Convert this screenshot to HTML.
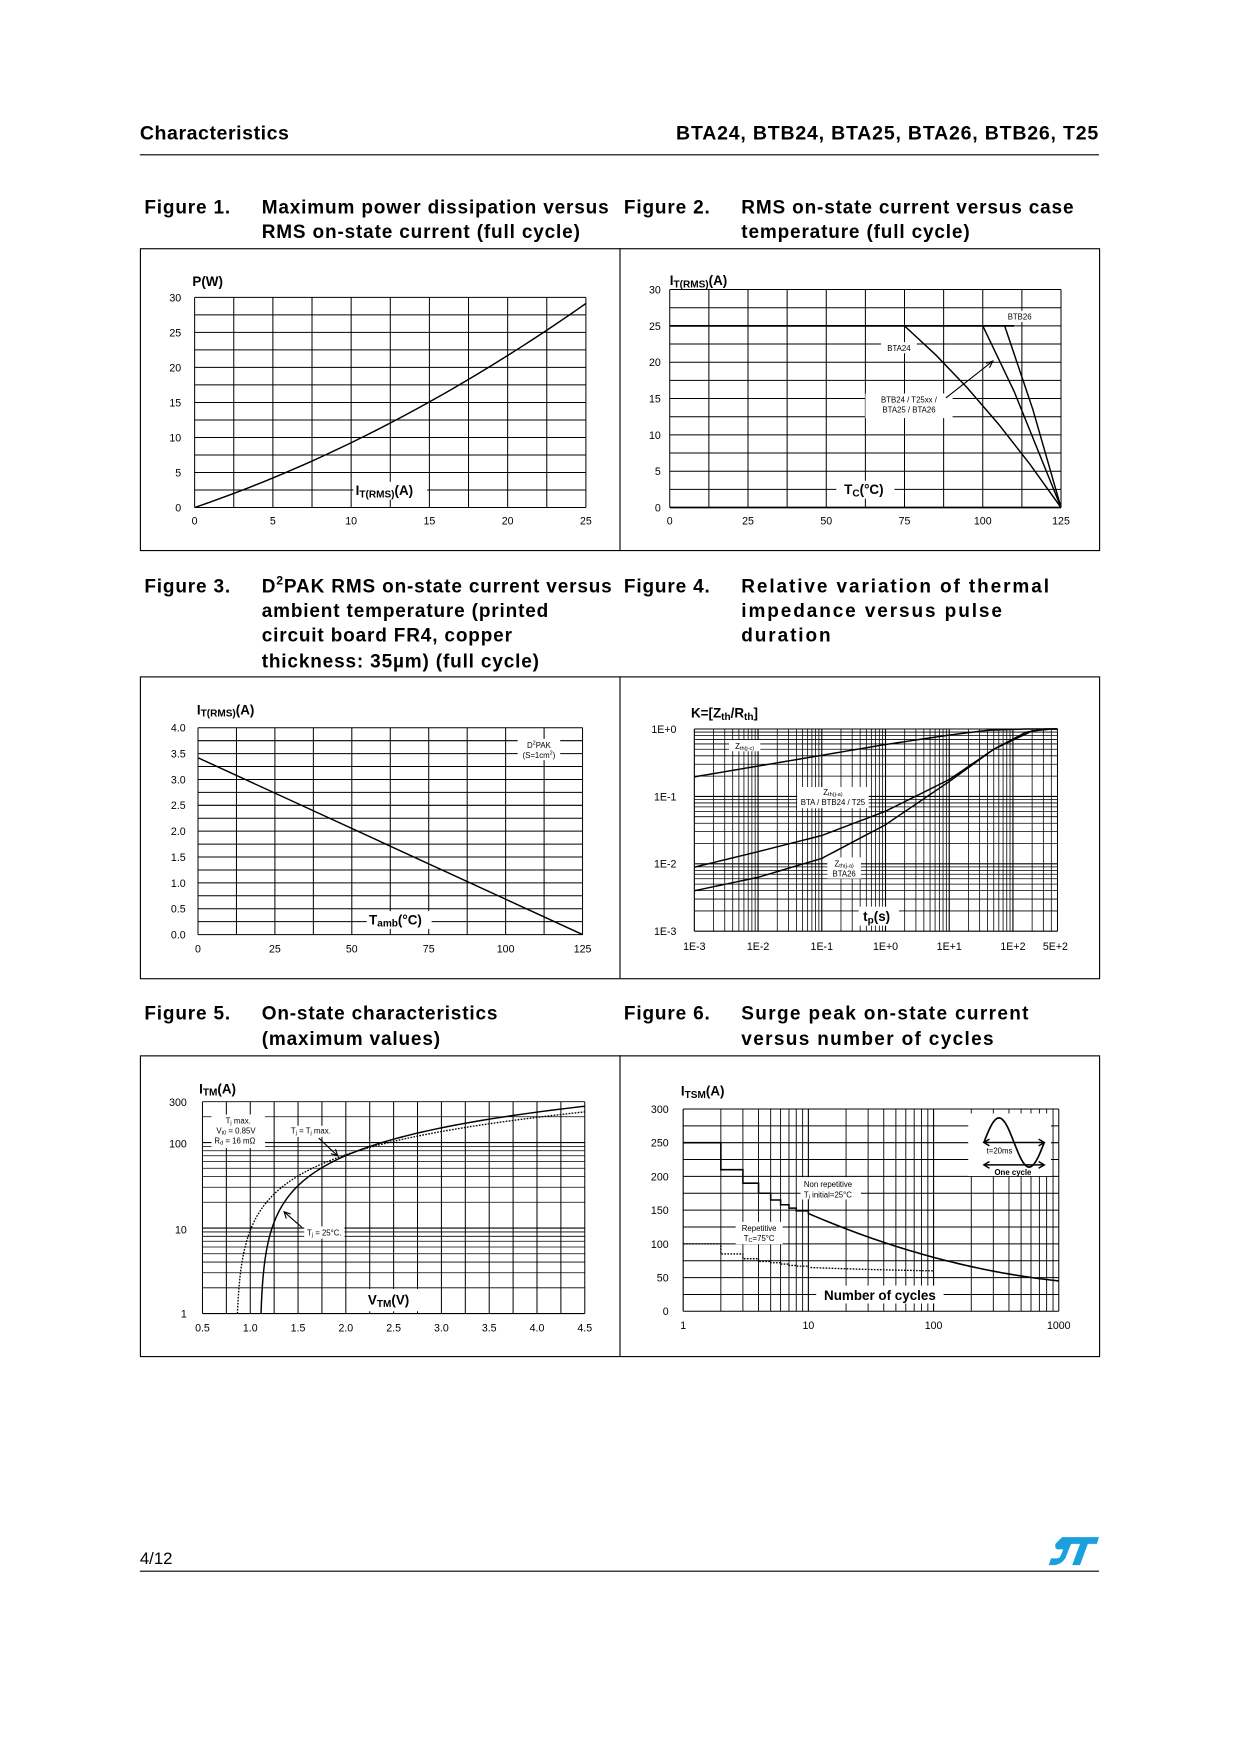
<!DOCTYPE html>
<html><head><meta charset="utf-8"><style>
html,body{margin:0;padding:0;background:#fff}
svg{display:block}
text{font-family:"Liberation Sans",Arial,sans-serif;fill:#000}
.t{font-size:17px;font-weight:bold;letter-spacing:0.75px}
.ax{font-size:9.5px}
.sm{font-size:7px}
.lb{font-size:12px;font-weight:bold}
</style></head><body>
<svg id="s" width="1240" height="1754" viewBox="0 0 1109 1569" xmlns="http://www.w3.org/2000/svg">
<rect width="1109" height="1569" fill="#fff"/>
<g id="grid" stroke="#000" stroke-width="0.9" fill="none"></g>
<g id="curves" stroke="#000" stroke-width="1.3" fill="none"></g>
<g id="labels">
<text x="125" y="125" class="t" style="font-size:17.5px;letter-spacing:0.5px">Characteristics</text>
<text x="983" y="125" class="t" text-anchor="end" style="font-size:17.5px;letter-spacing:0.7px">BTA24, BTB24, BTA25, BTA26, BTB26, T25</text>
<line x1="125" y1="138.5" x2="983" y2="138.5" stroke="#000" stroke-width="1"/>

<text x="129" y="191" class="t">Figure 1.</text>
<text x="234" y="191" class="t">Maximum power dissipation versus</text>
<text x="234" y="213" class="t">RMS on-state current (full cycle)</text>
<text x="558" y="191" class="t">Figure 2.</text>
<text x="663" y="191" class="t">RMS on-state current versus case</text>
<text x="663" y="213" class="t">temperature (full cycle)</text>

<text x="129" y="530" class="t">Figure 3.</text>
<text x="234" y="530" class="t">D<tspan dy="-7" font-size="11">2</tspan><tspan dy="7">PAK RMS on-state current versus</tspan></text>
<text x="234" y="552" class="t">ambient temperature (printed</text>
<text x="234" y="574" class="t">circuit board FR4, copper</text>
<text x="234" y="597" class="t">thickness: 35µm) (full cycle)</text>
<text x="558" y="530" class="t">Figure 4.</text>
<text x="663" y="530" class="t" style="letter-spacing:1.7px">Relative variation of thermal</text>
<text x="663" y="552" class="t" style="letter-spacing:1.7px">impedance versus pulse</text>
<text x="663" y="574" class="t" style="letter-spacing:1.7px">duration</text>

<text x="129" y="912" class="t">Figure 5.</text>
<text x="234" y="912" class="t">On-state characteristics</text>
<text x="234" y="935" class="t">(maximum values)</text>
<text x="558" y="912" class="t">Figure 6.</text>
<text x="663" y="912" class="t" style="letter-spacing:1.2px">Surge peak on-state current</text>
<text x="663" y="935" class="t" style="letter-spacing:1.2px">versus number of cycles</text>

<g fill="none" stroke="#000" stroke-width="1">
<rect x="125.5" y="222.5" width="858" height="270"/>
<line x1="554.5" y1="222" x2="554.5" y2="492"/>
<rect x="125.5" y="605.5" width="858" height="270"/>
<line x1="554.5" y1="605" x2="554.5" y2="875"/>
<rect x="125.5" y="944.5" width="858" height="269"/>
<line x1="554.5" y1="944" x2="554.5" y2="1213"/>
</g>

<text x="125" y="1399" style="font-size:15px">4/12</text>
<line x1="125" y1="1405.5" x2="983" y2="1405.5" stroke="#000" stroke-width="1"/>
<g transform="translate(940,1375)"><path d="M10 0 H43 L41 6 H33 L26 25 H19 L26 6 H18 L14 16 Q12 23 4 25 H-2 L0 19 H5 Q8 19 9 16 L11 11 H7 Q3 11 4 6 Z" fill="#1aa0dc"/></g>
</g>
<g id="txt"></g>
</svg>
<script>
const NS="http://www.w3.org/2000/svg";
const G=document.getElementById('grid'),C=document.getElementById('curves'),T=document.getElementById('txt');
function L(g,x1,y1,x2,y2,a){const e=document.createElementNS(NS,'line');e.setAttribute('x1',x1);e.setAttribute('y1',y1);e.setAttribute('x2',x2);e.setAttribute('y2',y2);e.setAttribute('stroke','#000');if(a)for(const k in a)e.setAttribute(k,a[k]);g.appendChild(e);}
function P(pts,a,g){const e=document.createElementNS(NS,'polyline');e.setAttribute('points',pts.map(p=>p[0].toFixed(2)+','+p[1].toFixed(2)).join(' '));e.setAttribute('fill','none');e.setAttribute('stroke','#000');e.setAttribute('stroke-width','1.3');if(a)for(const k in a)e.setAttribute(k,a[k]);(g||C).appendChild(e);}
function Tx(x,y,s,cls,anchor){const e=document.createElementNS(NS,'text');e.setAttribute('x',x);e.setAttribute('y',y);e.setAttribute('class',cls||'ax');if(anchor)e.setAttribute('text-anchor',anchor);e.innerHTML=s;T.appendChild(e);return e;}
function W(x,y,w,h){const e=document.createElementNS(NS,'rect');e.setAttribute('x',x);e.setAttribute('y',y);e.setAttribute('width',w);e.setAttribute('height',h);e.setAttribute('fill','#fff');T.appendChild(e);}

// Plot 1
{const x0=174,x1=524,y0=266,y1=454;
for(let i=0;i<=10;i++){const x=x0+i*(x1-x0)/10;L(G,x,y0,x,y1);}
for(let i=0;i<=12;i++){const y=y1-i*(y1-y0)/12;L(G,x0,y,x1,y);}
const pts=[];for(let I=0;I<=25;I+=0.5){const p=0.765*I+0.016*I*I;pts.push([x0+I/25*350,y1-p/30*188]);}P(pts);
[0,5,10,15,20,25,30].forEach((v,i)=>Tx(162,y1-v/30*188+3.5,v,'ax','end'));
[0,5,10,15,20,25].forEach(v=>Tx(x0+v/25*350,469,v,'ax','middle'));
Tx(172,256,'P(W)','lb');
W(316,431,66,16);Tx(318,443,'I<tspan font-size="9" dy="2">T(RMS)</tspan><tspan dy="-2">(A)</tspan>','lb');
}
// Plot 2
{const x0=599,x1=949,y0=259,y1=454;
const px=t=>x0+t/125*350,py=v=>y1-v/30*195;
for(let i=0;i<=10;i++){L(G,px(i*12.5),y0,px(i*12.5),y1);}
for(let i=0;i<=12;i++){L(G,x0,py(i*2.5),x1,py(i*2.5));}
L(C,x0,py(25),px(110),py(25),{'stroke-width':1.6});L(C,x0,py(0),x1,py(0),{'stroke-width':1.6});
P([[px(75),py(25)],[px(85),py(21)],[px(95),py(16.5)],[px(105),py(11.5)],[px(115),py(6)],[px(125),py(0)]]);
P([[px(100),py(25)],[px(110),py(16)],[px(125),py(0)]]);
P([[px(107),py(25)],[px(116),py(13.5)],[px(125),py(0)]]);
[0,5,10,15,20,25,30].forEach(v=>Tx(591,py(v)+3.5,v,'ax','end'));
[0,25,50,75,100,125].forEach(v=>Tx(px(v),469,v,'ax','middle'));
Tx(599,255,'I<tspan font-size="9" dy="2">T(RMS)</tspan><tspan dy="-2">(A)</tspan>','lb');
W(896,278,33,10);Tx(912,286,'BTB26','sm','middle');
W(788,306,32,10);Tx(804,314,'BTA24','sm','middle');
W(774,352,78,22);Tx(813,360,'BTB24 / T25xx /','sm','middle');Tx(813,369,'BTA25 / BTA26','sm','middle');
L(T,846,356,888,323,{'stroke-width':1});
P([[882,325],[888,323],[885,329]],{'stroke-width':1},T);
W(748,430,52,16);Tx(755,442,'T<tspan font-size="9" dy="2">C</tspan><tspan dy="-2">(°C)</tspan>','lb');
}
// Plot 3
{const x0=177,x1=521,y0=651,y1=836;
const px=t=>x0+t/125*344,py=v=>y1-v/4*185;
for(let i=0;i<=10;i++)L(G,px(i*12.5),y0,px(i*12.5),y1);
for(let i=0;i<=16;i++)L(G,x0,py(i*0.25),x1,py(i*0.25));
P([[px(0),py(3.42)],[px(125),py(0)]]);
[0,0.5,1,1.5,2,2.5,3,3.5,4].forEach(v=>Tx(166,py(v)+3.5,v.toFixed(1),'ax','end'));
[0,25,50,75,100,125].forEach(v=>Tx(px(v),852,v,'ax','middle'));
Tx(176,639,'I<tspan font-size="9" dy="2">T(RMS)</tspan><tspan dy="-2">(A)</tspan>','lb');
W(463,661,38,19);Tx(482,669,'D<tspan font-size="5" dy="-3">2</tspan><tspan dy="3">PAK</tspan>','sm','middle');Tx(482,678,'(S=1cm<tspan font-size="5" dy="-3">2</tspan><tspan dy="3">)</tspan>','sm','middle');
W(328,815,58,16);Tx(330,827,'T<tspan font-size="9" dy="2">amb</tspan><tspan dy="-2">(°C)</tspan>','lb');
}
// Plot 4
{const x0=621,dx=57,y0=833,dy=60.3;
const px=X=>x0+(X+3)*dx,py=Y=>y0-(Y+3)*dy;
const xmax=px(Math.log10(5)+2);
for(let d=-3;d<=2;d++)for(let m=1;m<=9;m++){const X=d+Math.log10(m);const x=px(X);if(x<=xmax+0.5)L(G,x,py(0),x,y0,{'stroke-width':m==1?1:0.7});}
L(G,xmax,py(0),xmax,y0);
for(let d=-3;d<0;d++)for(let m=1;m<=9;m++){const y=py(d+Math.log10(m));L(G,x0,y,xmax,y,{'stroke-width':m==1?1:0.7});}
L(G,x0,py(0),xmax,py(0));
function sm(arr){const out=[];for(let i=0;i<arr.length-1;i++){for(let k=0;k<10;k++){const t=k/10;out.push([px(arr[i][0]+(arr[i+1][0]-arr[i][0])*t),py(arr[i][1]+(arr[i+1][1]-arr[i][1])*t)]);}}const l=arr[arr.length-1];out.push([px(l[0]),py(l[1])]);return out;}
P(sm([[-3,-0.71],[-2,-0.55],[-1,-0.39],[0,-0.23],[1,-0.09],[1.6,-0.02],[2.2,0],[2.7,0]]));
P(sm([[-3,-2.05],[-2,-1.82],[-1,-1.58],[0,-1.22],[1,-0.75],[1.7,-0.3],[2.2,-0.05],[2.5,0],[2.7,0]]));
P(sm([[-3,-2.4],[-2,-2.2],[-1,-1.92],[0,-1.42],[1,-0.78],[1.7,-0.3],[2.3,-0.03],[2.6,0],[2.7,0]]));
['1E+0','1E-1','1E-2','1E-3'].forEach((s,i)=>Tx(605,py(-i)+3.5,s,'ax','end'));
['1E-3','1E-2','1E-1','1E+0','1E+1','1E+2'].forEach((s,i)=>Tx(px(i-3),850,s,'ax','middle'));
Tx(944,850,'5E+2','ax','middle');
Tx(618,642,'K=[Z<tspan font-size="9" dy="2">th</tspan><tspan dy="-2">/R</tspan><tspan font-size="9" dy="2">th</tspan><tspan dy="-2">]</tspan>','lb');
W(652,662,28,10);Tx(666,670,'Z<tspan font-size="5" dy="1">th(j-c)</tspan>','sm','middle');
W(713,704,64,19);Tx(745,711,'Z<tspan font-size="5" dy="1">th(j-a)</tspan>','sm','middle');Tx(745,720,'BTA / BTB24 / T25','sm','middle');
W(740,767,30,19);Tx(755,775,'Z<tspan font-size="5" dy="1">th(j-a)</tspan>','sm','middle');Tx(755,784,'BTA26','sm','middle');
W(768,811,36,17);Tx(772,824,'t<tspan font-size="9" dy="2">p</tspan><tspan dy="-2">(s)</tspan>','lb');
}
// Plot 5
{const x0=181,x1=523,y1=1175,dec=76.5;
const px=v=>x0+(v-0.5)/4*342,py=I=>y1-Math.log10(I)*dec;
const ytop=py(300);
for(let i=0;i<=16;i++)L(G,px(0.5+i*0.25),ytop,px(0.5+i*0.25),y1);
[1,2,3,4,5,6,7,8,9,10,20,30,40,50,60,70,80,90,100,200,300].forEach(I=>L(G,x0,py(I),x1,py(I),{'stroke-width':(I==1||I==10||I==100)?1:0.7}));
const a=[],b=[];
for(let lg=0;lg<=2.48;lg+=0.02){const I=Math.pow(10,lg);const v1=1.1+0.0128*I;const v2=0.85+0.016*I;if(v1<=4.5)a.push([px(v1),py(I)]);if(v2<=4.5)b.push([px(v2),py(I)]);}
a.push([px(4.5),py((4.5-1.1)/0.0128)]);b.push([px(4.5),py((4.5-0.85)/0.016)]);
P(a);P(b,{'stroke-dasharray':'1.5,1.2','stroke-width':1.2});
[[1,1175],[10,1100],[100,1023],[300,986]].forEach(p=>Tx(167,p[1]+3.5,p[0],'ax','end'));
[0.5,1,1.5,2,2.5,3,3.5,4,4.5].forEach(v=>Tx(px(v),1191,v.toFixed(1),'ax','middle'));
Tx(178,978,'I<tspan font-size="9" dy="2">TM</tspan><tspan dy="-2">(A)</tspan>','lb');
W(189,997,48,30);Tx(213,1005,'T<tspan font-size="5" dy="1">j</tspan><tspan dy="-1"> max.</tspan>','sm','middle');Tx(211,1014,'V<tspan font-size="5" dy="1">t0</tspan><tspan dy="-1"> = 0.85V</tspan>','sm','middle');Tx(210,1023,'R<tspan font-size="5" dy="1">d</tspan><tspan dy="-1"> = 16 mΩ</tspan>','sm','middle');
W(257,1007,44,10);Tx(278,1014,'T<tspan font-size="5" dy="1">j</tspan><tspan dy="-1"> = T</tspan><tspan font-size="5" dy="1">j</tspan><tspan dy="-1"> max.</tspan>','sm','middle');
L(T,285,1018,302,1034,{'stroke-width':1});P([[296,1032],[302,1034],[300,1028]],{'stroke-width':1},T);
W(272,1097,36,11);Tx(290,1105,'T<tspan font-size="5" dy="1">j</tspan><tspan dy="-1"> = 25°C.</tspan>','sm','middle');
L(T,270,1098,254,1084,{'stroke-width':1});P([[256,1090],[254,1084],[260,1086]],{'stroke-width':1},T);
W(325,1153,50,20);Tx(329,1167,'V<tspan font-size="9" dy="2">TM</tspan><tspan dy="-2">(V)</tspan>','lb');
}
// Plot 6
{const x0=611,y1=1173,dec=112;
const px=n=>x0+Math.log10(n)*dec,py=v=>y1-v/300*181;
const xm=px(1000);
for(let d=0;d<3;d++)for(let m=1;m<=9;m++)L(G,px(Math.pow(10,d)*m),py(300),px(Math.pow(10,d)*m),y1,{'stroke-width':m==1?1:0.8});
L(G,xm,py(300),xm,y1);
for(let i=0;i<=12;i++)L(G,x0,py(i*25),xm,py(i*25));
const s=[[1,250],[2,210],[3,190],[4,175],[5,165],[6,158],[7,153],[8,149],[10,145]];
const pts2=[];
for(let i=0;i<s.length-1;i++){pts2.push([px(s[i][0]),py(s[i][1])]);pts2.push([px(s[i+1][0]),py(s[i][1])]);}
for(let lg=1;lg<=3.001;lg+=0.05){const u=lg-1;pts2.push([px(Math.pow(10,lg)),py(145-80*u+15*u*u)]);}
P(pts2,{'stroke-width':1.4});
const r=[[1,100],[2,85],[3,78],[4,74],[5,72],[6,70],[7,68],[8,67],[10,65]];const q=[];
for(let i=0;i<r.length-1;i++){q.push([px(r[i][0]),py(r[i][1])]);q.push([px(r[i+1][0]),py(r[i][1])]);}
for(let lg=1;lg<=2.001;lg+=0.05){const u=lg-1;q.push([px(Math.pow(10,lg)),py(65-7*u+2*u*u)]);}
P(q,{'stroke-dasharray':'1.5,1.2','stroke-width':1.2});
[0,50,100,150,200,250,300].forEach(v=>Tx(598,py(v)+3.5,v,'ax','end'));
[[1,'1'],[10,'10'],[100,'100'],[1000,'1000']].forEach(p=>Tx(px(p[0]),1189,p[1],'ax','middle'));
Tx(609,980,'I<tspan font-size="9" dy="2">TSM</tspan><tspan dy="-2">(A)</tspan>','lb');
W(716,1053,54,20);Tx(719,1062,'Non repetitive','sm');Tx(719,1071,'T<tspan font-size="5" dy="1">j</tspan><tspan dy="-1"> initial=25°C</tspan>','sm');
W(658,1093,42,20);Tx(679,1101,'Repetitive','sm','middle');Tx(679,1110,'T<tspan font-size="5" dy="1">C</tspan><tspan dy="-1">=75°C</tspan>','sm','middle');
W(730,1150,114,16);Tx(787,1163,'Number of cycles','lb','middle');
W(866,996,74,56);
const sp=[];for(let k=0;k<=40;k++){const t=k/40;sp.push([880+t*54,1022-22*Math.sin(2*Math.PI*t)]);}P(sp,{'stroke-width':1.5},T);
L(T,880,1022,934,1022,{'stroke-width':1.3});L(T,880,1042,934,1042,{'stroke-width':1.3});
P([[885,1019],[880,1022],[885,1025]],{'stroke-width':1.3},T);P([[929,1019],[934,1022],[929,1025]],{'stroke-width':1.3},T);
P([[885,1039],[880,1042],[885,1045]],{'stroke-width':1.3},T);P([[929,1039],[934,1042],[929,1045]],{'stroke-width':1.3},T);
Tx(894,1032,'t=20ms','sm','middle');Tx(906,1051,'One cycle','sm','middle').setAttribute('font-weight','bold');
}
</script>
</body></html>
